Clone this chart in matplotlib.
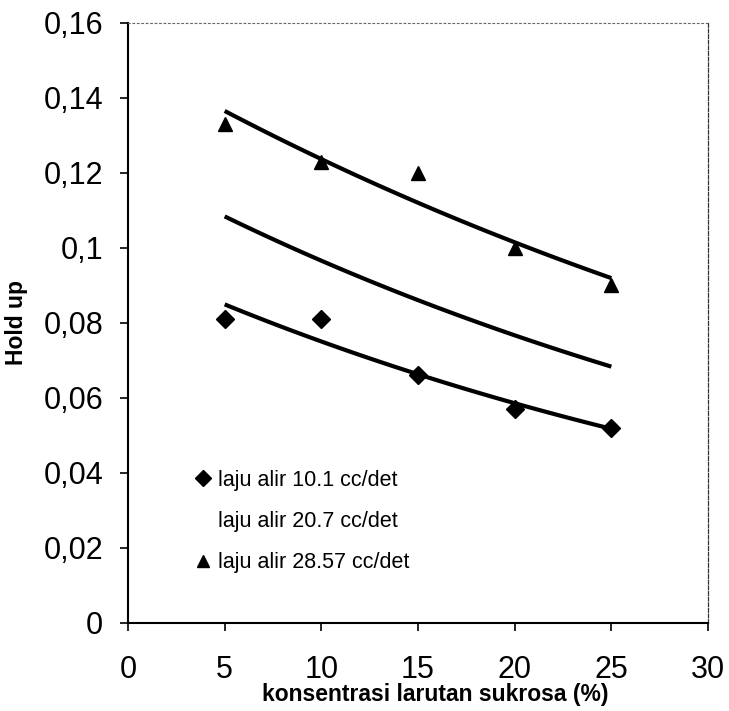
import numpy as np
import matplotlib
matplotlib.use("Agg")
import matplotlib.pyplot as plt
from matplotlib.ticker import FuncFormatter

plt.rcParams['font.family'] = ['Liberation Sans', 'DejaVu Sans']

# data
konsentrasi = [5, 10, 15, 20, 25]
hold_up_10_1 = [0.081, 0.081, 0.066, 0.057, 0.052]        # diamonds
hold_up_20_7 = [0.1085, 0.0968, 0.0861, 0.0760, 0.0688]   # no markers shown
hold_up_28_57 = [0.133, 0.123, 0.120, 0.100, 0.090]       # triangles
labels = ['laju alir 10.1 cc/det', 'laju alir 20.7 cc/det', 'laju alir 28.57 cc/det']
markers = ['D', None, '^']

fig = plt.figure(figsize=(7.29, 7.11), dpi=100)
ax = fig.add_axes([0.1756, 0.1238, 0.7956, 0.8439])

x = np.array(konsentrasi, dtype=float)
xs = np.linspace(5, 25, 100)
for y, lab, m in zip([hold_up_10_1, hold_up_20_7, hold_up_28_57], labels, markers):
    # exponential trend line, as in the spreadsheet
    b, a = np.polyfit(x, np.log(y), 1)
    ax.plot(xs, np.exp(a + b * xs), color='black', lw=3.0, solid_capstyle='butt')
    if m is not None:
        ax.plot(x, y, linestyle='none', marker=m, color='black',
                markersize=9.5 if m == 'D' else 10, label=lab)
    else:
        ax.plot([], [], linestyle='none', marker=None, label=lab)

ax.set_xlim(0, 30)
ax.set_ylim(0, 0.16)
ax.set_xticks(range(0, 31, 5))
ax.set_yticks(np.arange(0, 0.161, 0.02))
ax.yaxis.set_major_formatter(FuncFormatter(lambda v, p: ('%g' % round(v, 2)).replace('.', ',')))
ax.tick_params(axis='both', labelsize=22, direction='out', length=6, width=1.2)
ax.tick_params(axis='y', pad=12)
ax.tick_params(axis='x', pad=17)

ax.spines['left'].set_linewidth(1.5)
ax.spines['bottom'].set_linewidth(1.5)
ax.spines['top'].set_linestyle((0, (1.5, 2.5)))
ax.spines['top'].set_linewidth(0.8)
ax.spines['top'].set_color('#666666')
ax.spines['right'].set_linestyle((0, (3, 1.5)))
ax.spines['right'].set_linewidth(0.9)
ax.spines['right'].set_color('#333333')

ax.set_xlabel('konsentrasi larutan sukrosa (%)', fontsize=16.5, fontweight='bold')
ax.xaxis.set_label_coords(0.53, -0.1)
ax.set_ylabel('Hold up', fontsize=16.5, fontweight='bold')
ax.yaxis.set_label_coords(-0.172, 0.5)

ax.legend(loc='upper left', bbox_to_anchor=(0.1, 0.27), frameon=False, fontsize=15.5,
          handlelength=0.8, handletextpad=0.3, labelspacing=0.95, markerscale=0.9,
          borderaxespad=0)

fig.savefig('out.png', dpi=100)
